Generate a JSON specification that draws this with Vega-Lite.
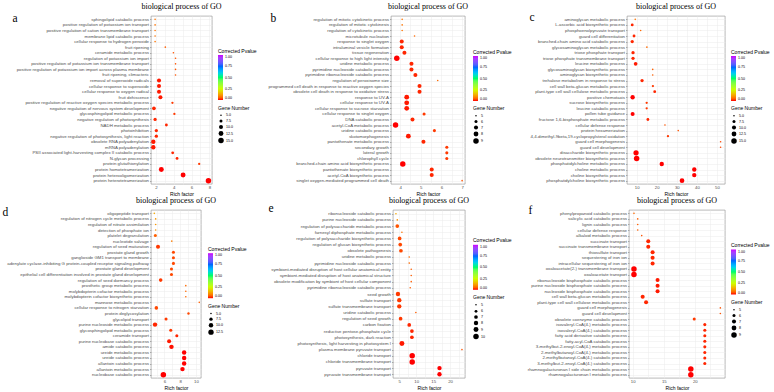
{
"$schema": "https://vega.github.io/schema/vega-lite/v6.json",
"padding": {"left": 1, "top": 2, "right": 0, "bottom": 0},
"background": "white",
"datasets": {
"a": [
{"term": "sphingolipid catabolic process", "rich": 1.9, "gene": 5, "p": 0.07},
{"term": "positive regulation of potassium ion transport", "rich": 1.9, "gene": 5, "p": 0.07},
{"term": "positive regulation of cation transmembrane transport", "rich": 1.9, "gene": 5, "p": 0.07},
{"term": "membrane lipid catabolic process", "rich": 1.9, "gene": 5, "p": 0.07},
{"term": "cellular response to hydrogen peroxide", "rich": 1.9, "gene": 5, "p": 0.07},
{"term": "fruit ripening", "rich": 3.05, "gene": 5, "p": 0.05},
{"term": "ceramide metabolic process", "rich": 3.96, "gene": 5, "p": 0.04},
{"term": "regulation of potassium ion import", "rich": 4.2, "gene": 5, "p": 0.04},
{"term": "positive regulation of potassium ion transmembrane transport", "rich": 4.2, "gene": 5, "p": 0.04},
{"term": "positive regulation of potassium ion import across plasma membrane", "rich": 4.2, "gene": 5, "p": 0.04},
{"term": "fruit ripening, climacteric", "rich": 4.2, "gene": 5, "p": 0.04},
{"term": "removal of superoxide radicals", "rich": 2.34, "gene": 10, "p": 0.005},
{"term": "cellular response to superoxide", "rich": 2.34, "gene": 10, "p": 0.005},
{"term": "cellular response to oxygen radical", "rich": 2.34, "gene": 10, "p": 0.005},
{"term": "fruit dehiscence", "rich": 2.5, "gene": 10, "p": 0.005},
{"term": "positive regulation of reactive oxygen species metabolic process", "rich": 3.85, "gene": 6, "p": 0.02},
{"term": "negative regulation of nervous system development", "rich": 1.77, "gene": 9, "p": 0.01},
{"term": "glycosphingolipid metabolic process", "rich": 4.07, "gene": 6, "p": 0.02},
{"term": "negative regulation of photosynthesis", "rich": 1.9, "gene": 8, "p": 0.01},
{"term": "NADH metabolic process", "rich": 3.17, "gene": 7, "p": 0.01},
{"term": "photoinhibition", "rich": 2.04, "gene": 8, "p": 0.01},
{"term": "negative regulation of photosynthesis, light reaction", "rich": 2.04, "gene": 8, "p": 0.01},
{"term": "obsolete RNA polyadenylation", "rich": 1.7, "gene": 11, "p": 0.005},
{"term": "mRNA polyadenylation", "rich": 1.7, "gene": 11, "p": 0.005},
{"term": "PSII associated light-harvesting complex II catabolic process", "rich": 3.88, "gene": 7, "p": 0.01},
{"term": "N-glycan processing", "rich": 4.37, "gene": 7, "p": 0.01},
{"term": "protein glutathionylation", "rich": 6.86, "gene": 6, "p": 0.02},
{"term": "protein homotetramerization", "rich": 2.6, "gene": 13, "p": 0.0},
{"term": "protein heterooligomerization", "rich": 5.05, "gene": 13, "p": 0.0},
{"term": "protein heterotetramerization", "rich": 7.9, "gene": 15, "p": 0.0}
],
"b": [
{"term": "regulation of mitotic cytokinetic process", "rich": 4.1, "gene": 5, "p": 0.07},
{"term": "regulation of mitotic cytokinesis", "rich": 4.1, "gene": 5, "p": 0.07},
{"term": "regulation of cytokinetic process", "rich": 4.1, "gene": 5, "p": 0.07},
{"term": "microtubule nucleation", "rich": 4.7, "gene": 5, "p": 0.06},
{"term": "response to singlet oxygen", "rich": 4.08, "gene": 7, "p": 0.01},
{"term": "intraluminal vesicle formation", "rich": 4.08, "gene": 7, "p": 0.01},
{"term": "tissue regeneration", "rich": 4.21, "gene": 7, "p": 0.01},
{"term": "cellular response to high light intensity", "rich": 3.84, "gene": 9, "p": 0.0},
{"term": "uridine metabolic process", "rich": 4.55, "gene": 7, "p": 0.01},
{"term": "pyrimidine nucleoside catabolic process", "rich": 4.55, "gene": 7, "p": 0.01},
{"term": "pyrimidine ribonucleoside catabolic process", "rich": 4.74, "gene": 7, "p": 0.01},
{"term": "regulation of peroxisome size", "rich": 5.82, "gene": 5, "p": 0.06},
{"term": "programmed cell death in response to reactive oxygen species", "rich": 4.94, "gene": 7, "p": 0.01},
{"term": "obsolete cell death in response to oxidative stress", "rich": 4.94, "gene": 7, "p": 0.01},
{"term": "response to UV-A", "rich": 4.32, "gene": 8, "p": 0.005},
{"term": "cellular response to UV-A", "rich": 4.32, "gene": 8, "p": 0.005},
{"term": "cellular response to sucrose starvation", "rich": 4.32, "gene": 8, "p": 0.005},
{"term": "cellular response to singlet oxygen", "rich": 5.16, "gene": 6, "p": 0.02},
{"term": "DNA catabolic process", "rich": 4.6, "gene": 7, "p": 0.01},
{"term": "acetyl-CoA metabolic process", "rich": 3.78, "gene": 9, "p": 0.0},
{"term": "uridine catabolic process", "rich": 5.66, "gene": 6, "p": 0.02},
{"term": "skotomorphogenesis", "rich": 4.4, "gene": 8, "p": 0.005},
{"term": "pantothenate metabolic process", "rich": 5.13, "gene": 7, "p": 0.01},
{"term": "secondary growth", "rich": 6.26, "gene": 6, "p": 0.02},
{"term": "lateral growth", "rich": 6.26, "gene": 6, "p": 0.02},
{"term": "chlorophyll cycle", "rich": 6.26, "gene": 6, "p": 0.02},
{"term": "branched-chain amino acid biosynthetic process", "rich": 4.13, "gene": 9, "p": 0.0},
{"term": "pantothenate biosynthetic process", "rich": 5.53, "gene": 7, "p": 0.01},
{"term": "acetyl-CoA biosynthetic process", "rich": 5.53, "gene": 7, "p": 0.01},
{"term": "singlet oxygen-mediated programmed cell death", "rich": 7.0, "gene": 5, "p": 0.04}
],
"c": [
{"term": "aminoglycan metabolic process", "rich": 9.3, "gene": 5, "p": 0.07},
{"term": "L-ascorbic acid biosynthetic process", "rich": 7.8, "gene": 7, "p": 0.01},
{"term": "phosphoenolpyruvate transport", "rich": 12.0, "gene": 5, "p": 0.06},
{"term": "guard cell differentiation", "rich": 8.7, "gene": 7, "p": 0.01},
{"term": "branched-chain amino acid catabolic process", "rich": 7.8, "gene": 8, "p": 0.01},
{"term": "glycosaminoglycan metabolic process", "rich": 15.1, "gene": 5, "p": 0.06},
{"term": "triose phosphate transport", "rich": 8.2, "gene": 8, "p": 0.01},
{"term": "triose phosphate transmembrane transport", "rich": 8.2, "gene": 8, "p": 0.01},
{"term": "leucine metabolic process", "rich": 9.5, "gene": 9, "p": 0.005},
{"term": "glycosaminoglycan biosynthetic process", "rich": 18.0, "gene": 5, "p": 0.05},
{"term": "aminoglycan biosynthetic process", "rich": 18.0, "gene": 5, "p": 0.05},
{"term": "trehalose metabolism in response to stress", "rich": 12.7, "gene": 8, "p": 0.01},
{"term": "cell wall beta-glucan metabolic process", "rich": 18.1, "gene": 6, "p": 0.02},
{"term": "plant-type cell wall cellulose metabolic process", "rich": 19.0, "gene": 7, "p": 0.01},
{"term": "positive chemotaxis", "rich": 8.0, "gene": 11, "p": 0.0},
{"term": "sucrose biosynthetic process", "rich": 15.0, "gene": 6, "p": 0.02},
{"term": "leucine catabolic process", "rich": 15.0, "gene": 6, "p": 0.02},
{"term": "pollen tube guidance", "rich": 8.0, "gene": 10, "p": 0.0},
{"term": "fructose 1,6-bisphosphate metabolic process", "rich": 15.6, "gene": 7, "p": 0.01},
{"term": "cellular defense response", "rich": 24.1, "gene": 5, "p": 0.04},
{"term": "protein hexamerization", "rich": 30.7, "gene": 5, "p": 0.04},
{"term": "4,4-dimethyl-9beta,19-cyclopropylsterol oxidation", "rich": 25.6, "gene": 6, "p": 0.02},
{"term": "guard cell morphogenesis", "rich": 51.8, "gene": 5, "p": 0.03},
{"term": "guard cell development", "rich": 51.8, "gene": 5, "p": 0.03},
{"term": "disaccharide biosynthetic process", "rich": 9.7, "gene": 14, "p": 0.0},
{"term": "obsolete neurotransmitter biosynthetic process", "rich": 10.0, "gene": 15, "p": 0.0},
{"term": "phosphatidylcholine metabolic process", "rich": 22.5, "gene": 11, "p": 0.0},
{"term": "choline metabolic process", "rich": 38.7, "gene": 11, "p": 0.0},
{"term": "choline biosynthetic process", "rich": 38.7, "gene": 11, "p": 0.0},
{"term": "phosphatidylcholine biosynthetic process", "rich": 32.6, "gene": 12, "p": 0.0}
],
"d": [
{"term": "oligopeptide transport", "rich": 4.72, "gene": 5, "p": 0.13},
{"term": "regulation of nitrogen cycle metabolic process", "rich": 4.89, "gene": 5, "p": 0.11},
{"term": "regulation of nitrate assimilation", "rich": 4.89, "gene": 5, "p": 0.11},
{"term": "detection of phosphate ion", "rich": 4.89, "gene": 5, "p": 0.11},
{"term": "platelet degranulation", "rich": 4.85, "gene": 7, "p": 0.05},
{"term": "nucleotide salvage", "rich": 6.94, "gene": 5, "p": 0.08},
{"term": "regulation of seed maturation", "rich": 5.19, "gene": 9, "p": 0.02},
{"term": "prostate gland growth", "rich": 7.15, "gene": 7, "p": 0.03},
{"term": "ganglioside GM1 transport to membrane", "rich": 7.15, "gene": 7, "p": 0.03},
{"term": "adenylate cyclase-inhibiting G protein-coupled receptor signaling pathway", "rich": 7.15, "gene": 7, "p": 0.03},
{"term": "prostate gland development", "rich": 6.9, "gene": 7, "p": 0.03},
{"term": "epithelial cell differentiation involved in prostate gland development", "rich": 6.9, "gene": 7, "p": 0.03},
{"term": "regulation of seed dormancy process", "rich": 5.53, "gene": 8, "p": 0.02},
{"term": "prosthetic group metabolic process", "rich": 8.72, "gene": 5, "p": 0.06},
{"term": "molybdopterin cofactor metabolic process", "rich": 8.72, "gene": 5, "p": 0.06},
{"term": "molybdopterin cofactor biosynthetic process", "rich": 8.72, "gene": 5, "p": 0.06},
{"term": "mannose metabolic process", "rich": 10.43, "gene": 5, "p": 0.05},
{"term": "cellular response to nitrogen starvation", "rich": 4.98, "gene": 8, "p": 0.03},
{"term": "protein deglycosylation", "rich": 9.06, "gene": 6, "p": 0.03},
{"term": "glycolipid transport", "rich": 6.21, "gene": 7, "p": 0.02},
{"term": "purine nucleoside metabolic process", "rich": 4.81, "gene": 10, "p": 0.01},
{"term": "glycosphingolipid metabolic process", "rich": 6.81, "gene": 7, "p": 0.02},
{"term": "ceramide transport", "rich": 7.58, "gene": 7, "p": 0.01},
{"term": "purine nucleobase catabolic process", "rich": 6.6, "gene": 9, "p": 0.005},
{"term": "amide catabolic process", "rich": 6.9, "gene": 10, "p": 0.003},
{"term": "ureide metabolic process", "rich": 8.51, "gene": 10, "p": 0.0},
{"term": "ureide catabolic process", "rich": 8.51, "gene": 10, "p": 0.0},
{"term": "allantoin catabolic process", "rich": 8.51, "gene": 10, "p": 0.0},
{"term": "allantoin metabolic process", "rich": 8.3, "gene": 10, "p": 0.0},
{"term": "nucleobase catabolic process", "rich": 5.87, "gene": 13, "p": 0.0}
],
"e": [
{"term": "ribonucleoside catabolic process", "rich": 4.02, "gene": 5, "p": 0.13},
{"term": "purine nucleoside catabolic process", "rich": 4.41, "gene": 5, "p": 0.1},
{"term": "regulation of polysaccharide metabolic process", "rich": 4.41, "gene": 7, "p": 0.04},
{"term": "farnesyl diphosphate metabolic process", "rich": 5.78, "gene": 5, "p": 0.07},
{"term": "regulation of polysaccharide biosynthetic process", "rich": 5.1, "gene": 7, "p": 0.03},
{"term": "regulation of glucan biosynthetic process", "rich": 5.29, "gene": 7, "p": 0.03},
{"term": "obsolete pathogenesis", "rich": 5.49, "gene": 7, "p": 0.03},
{"term": "uridine metabolic process", "rich": 7.94, "gene": 5, "p": 0.06},
{"term": "pyrimidine nucleoside catabolic process", "rich": 7.94, "gene": 5, "p": 0.06},
{"term": "symbiont-mediated disruption of host cellular anatomical entity", "rich": 8.53, "gene": 5, "p": 0.05},
{"term": "symbiont-mediated disruption of host anatomical structure", "rich": 8.53, "gene": 5, "p": 0.05},
{"term": "obsolete modification by symbiont of host cellular component", "rich": 8.53, "gene": 5, "p": 0.05},
{"term": "pyrimidine ribonucleoside catabolic process", "rich": 8.24, "gene": 5, "p": 0.05},
{"term": "seed growth", "rich": 4.61, "gene": 8, "p": 0.02},
{"term": "sulfate transport", "rich": 5.0, "gene": 8, "p": 0.02},
{"term": "sulfate transmembrane transport", "rich": 5.0, "gene": 8, "p": 0.02},
{"term": "uridine catabolic process", "rich": 9.9, "gene": 5, "p": 0.05},
{"term": "regulation of seed growth", "rich": 5.39, "gene": 7, "p": 0.02},
{"term": "carbon fixation", "rich": 7.94, "gene": 7, "p": 0.01},
{"term": "reductive pentose-phosphate cycle", "rich": 8.73, "gene": 7, "p": 0.01},
{"term": "photosynthesis, dark reaction", "rich": 8.73, "gene": 7, "p": 0.01},
{"term": "photosynthesis, light harvesting in photosystem I", "rich": 5.78, "gene": 9, "p": 0.005},
{"term": "plasma membrane pyruvate transport", "rich": 23.5, "gene": 5, "p": 0.04},
{"term": "chloride transport", "rich": 8.82, "gene": 10, "p": 0.0},
{"term": "chloride transmembrane transport", "rich": 8.82, "gene": 10, "p": 0.0},
{"term": "pyruvate transport", "rich": 16.87, "gene": 8, "p": 0.0},
{"term": "pyruvate transmembrane transport", "rich": 16.87, "gene": 8, "p": 0.0}
],
"f": [
{"term": "phenylpropanoid catabolic process", "rich": 10.2, "gene": 5, "p": 0.06},
{"term": "salicylic acid catabolic process", "rich": 10.8, "gene": 5, "p": 0.05},
{"term": "lignin catabolic process", "rich": 10.8, "gene": 5, "p": 0.05},
{"term": "cellular defense response", "rich": 10.8, "gene": 5, "p": 0.05},
{"term": "alkaloid metabolic process", "rich": 11.45, "gene": 5, "p": 0.04},
{"term": "succinate transport", "rich": 12.5, "gene": 7, "p": 0.01},
{"term": "succinate transmembrane transport", "rich": 12.5, "gene": 7, "p": 0.01},
{"term": "thiosulfate transport", "rich": 13.2, "gene": 7, "p": 0.01},
{"term": "sequestering of iron ion", "rich": 13.2, "gene": 7, "p": 0.01},
{"term": "intracellular sequestering of iron ion", "rich": 13.2, "gene": 7, "p": 0.01},
{"term": "oxaloacetate(2-) transmembrane transport", "rich": 10.2, "gene": 9, "p": 0.0},
{"term": "oxaloacetate transport", "rich": 10.2, "gene": 9, "p": 0.0},
{"term": "ribonucleoside bisphosphate catabolic process", "rich": 14.0, "gene": 7, "p": 0.005},
{"term": "purine nucleoside bisphosphate catabolic process", "rich": 14.0, "gene": 7, "p": 0.005},
{"term": "nucleoside bisphosphate catabolic process", "rich": 14.0, "gene": 7, "p": 0.005},
{"term": "cell wall beta-glucan metabolic process", "rich": 11.6, "gene": 7, "p": 0.01},
{"term": "plant-type cell wall cellulose metabolic process", "rich": 12.15, "gene": 7, "p": 0.01},
{"term": "guard cell morphogenesis", "rich": 24.1, "gene": 5, "p": 0.04},
{"term": "guard cell development", "rich": 24.1, "gene": 5, "p": 0.04},
{"term": "obsolete coenzyme catabolic process", "rich": 19.9, "gene": 6, "p": 0.02},
{"term": "isovaleryl-CoA(4-) metabolic process", "rich": 21.6, "gene": 6, "p": 0.01},
{"term": "isovaleryl-CoA(4-) catabolic process", "rich": 21.6, "gene": 6, "p": 0.01},
{"term": "fatty acid derivative catabolic process", "rich": 21.6, "gene": 6, "p": 0.01},
{"term": "fatty-acyl-CoA catabolic process", "rich": 21.6, "gene": 6, "p": 0.01},
{"term": "3-methylbut-2-enoyl-CoA(4-) metabolic process", "rich": 21.6, "gene": 6, "p": 0.01},
{"term": "2-methylbutanoyl-CoA(4-) metabolic process", "rich": 21.6, "gene": 6, "p": 0.01},
{"term": "2-methylbutanoyl-CoA(4-) catabolic process", "rich": 21.6, "gene": 6, "p": 0.01},
{"term": "3-methylbut-2-enoyl-CoA(4-) catabolic process", "rich": 21.6, "gene": 6, "p": 0.01},
{"term": "rhamnogalacturonan I side chain metabolic process", "rich": 19.35, "gene": 9, "p": 0.0},
{"term": "rhamnogalacturonan I metabolic process", "rich": 19.35, "gene": 9, "p": 0.0}
]
},
"resolve": {"scale": {"color": "independent", "size": "independent"}, "legend": {"color": "independent", "size": "independent"}},
"spacing": -1,
"align": "none",
"vconcat": [
{
"bounds": "flush", "spacing": 179,
"resolve": {"scale": {"color": "independent", "size": "independent"}, "legend": {"color": "independent", "size": "independent"}},
"hconcat": [
{
"width": 61, "height": 168, "data": {"name": "a"}, "title": {"text": "biological process of GO", "offset": 1.4},
"mark": {"type": "circle", "opacity": 1},
"encoding": {
"y": {"field": "term", "type": "nominal", "sort": null, "scale": {"type": "point", "padding": 0.6}, "axis": {"title": "a", "titleX": -139, "titleY": 5.3}},
"x": {"field": "rich", "type": "quantitative", "scale": {"domain": [1.44, 8.3], "nice": false, "zero": false}, "axis": {"title": "Rich factor", "values": [2,3,4,5,6,7,8], "labelExpr": "datum.value % 2 === 0 ? format(datum.value, 'd') : ''"}},
"color": {"field": "p", "type": "quantitative", "scale": {"domain": [0,0.25,0.5,0.75,1], "range": ["#FF0000","#CCFF00","#00FF66","#0066FF","#CC00FF"]}, "legend": {"title": "Corrected Pvalue", "legendX": 67, "legendY": 32.5, "values": [0,0.25,0.5,0.75,1], "format": ".2f"}},
"size": {"field": "gene", "type": "quantitative", "scale": {"domain": [5,15], "range": [2.5,30], "zero": false}, "legend": {"title": "Gene Number", "legendX": 67, "legendY": 89.5, "values": [5,7.5,10,12.5,15], "format": ".1f", "titlePadding": 3}}
}
},
{
"bounds": "flush", "spacing": 162,
"resolve": {"scale": {"color": "independent", "size": "independent"}, "legend": {"color": "independent", "size": "independent"}},
"hconcat": [
{
"width": 74, "height": 168, "data": {"name": "b"}, "title": {"text": "biological process of GO", "offset": 1.4},
"mark": {"type": "circle", "opacity": 1},
"encoding": {
"y": {"field": "term", "type": "nominal", "sort": null, "scale": {"type": "point", "padding": 0.6}, "axis": {"title": "b", "titleX": -121, "titleY": 5.3}},
"x": {"field": "rich", "type": "quantitative", "scale": {"domain": [3.56, 7.14], "nice": false, "zero": false}, "axis": {"title": "Rich factor", "values": [4,4.5,5,5.5,6,6.5,7], "labelExpr": "datum.value % 1 === 0 ? format(datum.value, 'd') : ''"}},
"color": {"field": "p", "type": "quantitative", "scale": {"domain": [0,0.25,0.5,0.75,1], "range": ["#FF0000","#CCFF00","#00FF66","#0066FF","#CC00FF"]}, "legend": {"title": "Corrected Pvalue", "legendX": 82, "legendY": 33.5, "values": [0,0.25,0.5,0.75,1], "format": ".2f"}},
"size": {"field": "gene", "type": "quantitative", "scale": {"domain": [5,9], "range": [2.5,30], "zero": false}, "legend": {"title": "Gene Number", "legendX": 82, "legendY": 90, "values": [5,6,7,8,9], "format": "d", "titlePadding": 3}}
}
},
{
"width": 98, "height": 168, "data": {"name": "c"}, "title": {"text": "biological process of GO", "offset": 0.6},
"mark": {"type": "circle", "opacity": 1},
"encoding": {
"y": {"field": "term", "type": "nominal", "sort": null, "scale": {"type": "point", "padding": 0.6}, "axis": {"title": "c", "titleX": -98, "titleY": 4.5}},
"x": {"field": "rich", "type": "quantitative", "scale": {"domain": [5.2, 54.0], "nice": false, "zero": false}, "axis": {"title": "Rich factor", "values": [10,15,20,25,30,35,40,45,50], "labelExpr": "datum.value % 10 === 0 ? format(datum.value, 'd') : ''"}},
"color": {"field": "p", "type": "quantitative", "scale": {"domain": [0,0.25,0.5,0.75,1], "range": ["#FF0000","#CCFF00","#00FF66","#0066FF","#CC00FF"]}, "legend": {"title": "Corrected Pvalue", "legendX": 104, "legendY": 33.5, "values": [0,0.25,0.5,0.75,1], "format": ".2f"}},
"size": {"field": "gene", "type": "quantitative", "scale": {"domain": [5,15], "range": [2.5,30], "zero": false}, "legend": {"title": "Gene Number", "legendX": 104, "legendY": 90, "values": [5,7.5,10,12.5,15], "format": ".1f", "titlePadding": 3}}
}
}
]
}
]
},
{
"bounds": "flush", "spacing": 192,
"resolve": {"scale": {"color": "independent", "size": "independent"}, "legend": {"color": "independent", "size": "independent"}},
"hconcat": [
{
"width": 50, "height": 168, "data": {"name": "d"}, "title": {"text": "biological process of GO", "offset": 1.4},
"mark": {"type": "circle", "opacity": 1},
"encoding": {
"y": {"field": "term", "type": "nominal", "sort": null, "scale": {"type": "point", "padding": 0.6}, "axis": {"title": "d", "titleX": -149, "titleY": 5.3}},
"x": {"field": "rich", "type": "quantitative", "scale": {"domain": [4.3, 10.65], "nice": false, "zero": false}, "axis": {"title": "Rich factor", "values": [5,6,7,8,9,10], "labelExpr": "datum.value % 2 === 0 ? format(datum.value, 'd') : ''"}},
"color": {"field": "p", "type": "quantitative", "scale": {"domain": [0,0.25,0.5,0.75,1], "range": ["#FF0000","#CCFF00","#00FF66","#0066FF","#CC00FF"]}, "legend": {"title": "Corrected Pvalue", "legendX": 57, "legendY": 36.7, "values": [0,0.25,0.5,0.75,1], "format": ".2f"}},
"size": {"field": "gene", "type": "quantitative", "scale": {"domain": [5,13], "range": [2.5,30], "zero": false}, "legend": {"title": "Gene Number", "legendX": 57, "legendY": 93.7, "values": [5,7.5,10,12.5], "format": ".1f", "titlePadding": 3}}
}
},
{
"bounds": "flush", "spacing": 164,
"resolve": {"scale": {"color": "independent", "size": "independent"}, "legend": {"color": "independent", "size": "independent"}},
"hconcat": [
{
"width": 72, "height": 168, "data": {"name": "e"}, "title": {"text": "biological process of GO", "offset": -2.4},
"mark": {"type": "circle", "opacity": 1},
"encoding": {
"y": {"field": "term", "type": "nominal", "sort": null, "scale": {"type": "point", "padding": 0.6}, "axis": {"title": "e", "titleX": -125, "titleY": 1.5}},
"x": {"field": "rich", "type": "quantitative", "scale": {"domain": [3.15, 24.4], "nice": false, "zero": false}, "axis": {"title": "Rich factor", "values": [5,7.5,10,12.5,15,17.5,20,22.5], "labelExpr": "datum.value % 5 === 0 ? format(datum.value, 'd') : ''"}},
"color": {"field": "p", "type": "quantitative", "scale": {"domain": [0,0.25,0.5,0.75,1], "range": ["#FF0000","#CCFF00","#00FF66","#0066FF","#CC00FF"]}, "legend": {"title": "Corrected Pvalue", "legendX": 80, "legendY": 28.3, "values": [0,0.25,0.5,0.75,1], "format": ".2f"}},
"size": {"field": "gene", "type": "quantitative", "scale": {"domain": [5,10], "range": [2.5,30], "zero": false}, "legend": {"title": "Gene Number", "legendX": 80, "legendY": 85, "values": [5,6,7,8,9,10], "format": "d", "titlePadding": 3}}
}
},
{
"width": 96, "height": 168, "data": {"name": "f"}, "title": {"text": "biological process of GO", "offset": -0.9},
"mark": {"type": "circle", "opacity": 1},
"encoding": {
"y": {"field": "term", "type": "nominal", "sort": null, "scale": {"type": "point", "padding": 0.6}, "axis": {"title": "f", "titleX": -101, "titleY": 3}},
"x": {"field": "rich", "type": "quantitative", "scale": {"domain": [9.4, 24.85], "nice": false, "zero": false}, "axis": {"title": "Rich factor", "values": [10,12.5,15,17.5,20,22.5], "labelExpr": "datum.value % 5 === 0 ? format(datum.value, 'd') : ''"}},
"color": {"field": "p", "type": "quantitative", "scale": {"domain": [0,0.25,0.5,0.75,1], "range": ["#FF0000","#CCFF00","#00FF66","#0066FF","#CC00FF"]}, "legend": {"title": "Corrected Pvalue", "legendX": 102, "legendY": 33, "values": [0,0.25,0.5,0.75,1], "format": ".2f"}},
"size": {"field": "gene", "type": "quantitative", "scale": {"domain": [5,9], "range": [2.5,30], "zero": false}, "legend": {"title": "Gene Number", "legendX": 102, "legendY": 90, "values": [5,6,7,8,9], "format": "d", "titlePadding": 3}}
}
}
]
}
]
}
],
"config": {
"font": "Liberation Sans",
"view": {"stroke": "#8C8C8C", "strokeWidth": 0.6},
"axis": {"grid": true, "gridColor": "#EBEBEB", "gridWidth": 0.5, "domain": false, "labelFont": "Liberation Sans", "labelColor": "#4D4D4D", "titleFontWeight": "normal", "titleColor": "black", "labelOverlap": false, "labelFlush": false},
"axisX": {"ticks": false, "labelFontSize": 4.3, "labelPadding": 1.5, "titleFont": "Liberation Sans", "titleFontSize": 5, "titlePadding": 1.5},
"axisY": {"ticks": true, "tickSize": 1.5, "tickWidth": 0.4, "tickColor": "#4D4D4D", "labelFontSize": 4.35, "labelPadding": 1, "labelLimit": 400, "titleFont": "Liberation Serif", "titleFontSize": 11.5, "titleAngle": 0, "titleAlign": "left", "titleBaseline": "alphabetic"},
"legend": {"orient": "none", "direction": "vertical", "titleFont": "Liberation Sans", "titleFontSize": 5, "titleFontWeight": "normal", "titleColor": "black", "labelFont": "Liberation Sans", "labelFontSize": 3.6, "labelColor": "black", "gradientLength": 45, "gradientThickness": 5, "titlePadding": 1.5, "labelOffset": 2, "symbolType": "circle", "symbolFillColor": "black", "symbolStrokeColor": "black", "symbolStrokeWidth": 0, "rowPadding": 1.5},
"title": {"font": "Liberation Serif", "fontSize": 8, "fontWeight": "normal", "color": "black", "anchor": "middle", "frame": "group", "baseline": "alphabetic"}
}
}
